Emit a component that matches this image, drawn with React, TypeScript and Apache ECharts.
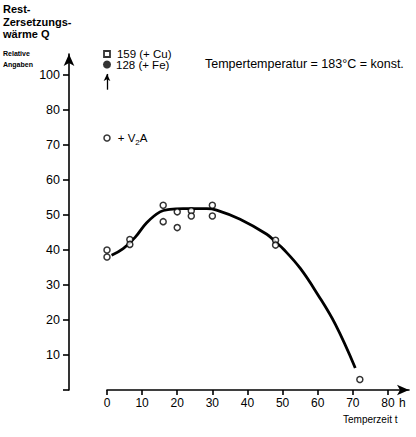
import React, { useEffect, useRef } from "react";
import * as echarts from "echarts";

// Measured data (Temperzeit t in h, Rest-Zersetzungswärme Q relative)
const measX = [0, 0, 6.5, 6.5, 16, 16, 20, 20, 24, 24, 30, 30, 48, 48, 72];
const measY = [40, 38, 43, 41.6, 52.8, 48.1, 50.9, 46.4, 51.2, 49.7, 52.8, 49.7, 42.8, 41.4, 3];

// Fitted curve (drawn by hand in the original)
const curveX = [1.3, 4.6, 8, 11.3, 15.1, 17.9, 21.7, 28.4, 31.2, 37.9, 45.5, 48, 50.2, 55, 60, 65, 70.7];
const curveY = [38.5, 40.4, 43.6, 47.8, 50.9, 51.6, 51.8, 51.8, 51.4, 48.8, 44.5, 42.3, 40.3, 34.8, 27.3, 18.8, 6.3];

// Alloy additions (off-scale values shown above the axis break)
const alloyNames = ["Cu", "Fe"];
const alloyValues = [159, 128];
const alloyPlotY = [96, 93];
const v2aValue = 72;

const xTicks = [0, 10, 20, 30, 40, 50, 60, 70, 80];
const yTickValues = [10, 20, 30, 40, 50, 60, 70, 80, 90];
const yTickLabels = ["10", "20", "30", "40", "50", "60", "70", "80", "100"];

const FONT = "'Liberation Sans', Arial, Helvetica, sans-serif";

export default function App() {
  const ref = useRef<HTMLDivElement>(null);
  useEffect(() => {
    if (!ref.current) return;
    const chart = echarts.init(ref.current, null, { renderer: "svg" });
    const black = "#000";
    const pointLabel = {
      show: true,
      position: "right",
      fontSize: 11.5,
      lineHeight: 10,
      color: black,
      opacity: 1,
      textBorderWidth: 0,
      textShadowBlur: 0,
      fontFamily: FONT,
    };
    chart.setOption({
      animation: false,
      backgroundColor: "#fff",
      textStyle: { fontFamily: FONT, color: black },
      grid: { left: 107, right: 7, top: 54, bottom: 47 },
      xAxis: {
        type: "value",
        min: 0,
        max: 86,
        interval: 10,
        axisLine: {
          show: true,
          lineStyle: { color: black, width: 1.6 },
          symbol: ["none", "arrow"],
          symbolSize: [8, 12],
        },
        axisTick: {
          show: true,
          length: 5,
          lineStyle: { color: black, width: 1.6 },
          customValues: xTicks,
        },
        axisLabel: {
          customValues: xTicks,
          fontSize: 12,
          color: black,
          margin: 7,
          fontFamily: FONT,
          formatter: (v: number) => String(v),
        },
        splitLine: { show: false },
      },
      yAxis: {
        type: "value",
        min: 0,
        max: 96,
        offset: 38,
        axisLine: {
          show: true,
          onZero: false,
          lineStyle: { color: black, width: 1.6 },
          symbol: ["none", "arrow"],
          symbolSize: [8, 12],
        },
        axisTick: {
          show: true,
          length: 6,
          lineStyle: { color: black, width: 1.6 },
          customValues: [0, ...yTickValues],
        },
        axisLabel: {
          customValues: yTickValues,
          fontSize: 12.5,
          color: black,
          margin: 9,
          fontFamily: FONT,
          formatter: (v: number) => {
            const i = yTickValues.indexOf(v);
            return i >= 0 ? yTickLabels[i] : "";
          },
        },
        splitLine: { show: false },
      },
      series: [
        {
          type: "line",
          data: curveX.map((x, i) => [x, curveY[i]]),
          smooth: 0.4,
          showSymbol: false,
          symbol: "none",
          lineStyle: { color: black, width: 2.8 },
          z: 2,
        },
        {
          type: "scatter",
          data: measX.map((x, i) => [x, measY[i]]),
          symbol: "circle",
          symbolSize: 6,
          itemStyle: { color: "#fff", borderColor: black, borderWidth: 1.5 },
          z: 3,
        },
        {
          type: "scatter",
          data: [[0, v2aValue]],
          symbol: "circle",
          symbolSize: 6,
          itemStyle: { color: "#fff", borderColor: black, borderWidth: 1.5 },
          label: {
            ...pointLabel,
            lineHeight: 16,
            distance: 7,
            formatter: "+ V{sub|2}A",
            rich: {
              sub: {
                fontSize: 8,
                lineHeight: 16,
                verticalAlign: "bottom",
                padding: [7, 0, 0, 0],
                fontFamily: FONT,
                color: black,
              },
            },
          },
          z: 3,
        },
        {
          type: "scatter",
          data: [[0, alloyPlotY[0]]],
          symbol: "rect",
          symbolSize: 6,
          itemStyle: { color: "#fff", borderColor: black, borderWidth: 1.8 },
          label: {
            ...pointLabel,
            distance: 6,
            formatter: `${alloyValues[0]} (+ ${alloyNames[0]})`,
          },
          z: 3,
        },
        {
          type: "scatter",
          data: [[0, alloyPlotY[1]]],
          symbol: "circle",
          symbolSize: 8,
          itemStyle: { color: black },
          label: {
            ...pointLabel,
            distance: 5,
            formatter: `${alloyValues[1]} (+ ${alloyNames[1]})`,
          },
          markLine: {
            silent: true,
            symbol: ["none", "arrow"],
            symbolSize: [5, 7],
            label: { show: false },
            lineStyle: { color: black, width: 1.3, type: "solid" },
            data: [[{ coord: [0, 85.8] }, { coord: [0, 90.3] }]],
          },
          z: 3,
        },
      ],
      graphic: [
        {
          type: "text",
          left: 3,
          top: 3,
          style: {
            text: "Rest-\nZersetzungs-\nwärme Q",
            font: `bold 11px ${FONT}`,
            lineHeight: 12.5,
            fill: black,
          },
        },
        {
          type: "text",
          left: 3,
          top: 48,
          style: {
            text: "Relative\nAngaben",
            font: `bold 7px ${FONT}`,
            lineHeight: 11,
            fill: black,
          },
        },
        {
          type: "text",
          left: 205,
          top: 57,
          style: {
            text: "Tempertemperatur = 183°C = konst.",
            font: `12.5px ${FONT}`,
            fill: black,
          },
        },
        {
          type: "text",
          left: 399,
          top: 397,
          style: { text: "h", font: `12px ${FONT}`, fill: black },
        },
        {
          type: "text",
          left: 343,
          top: 414,
          style: { text: "Temperzeit t", font: `10px ${FONT}`, fill: black },
        },
      ],
    });
    return () => chart.dispose();
  }, []);
  return (
    <div
      ref={ref}
      style={{ position: "fixed", left: 0, top: 0, width: 416, height: 437 }}
    />
  );
}
